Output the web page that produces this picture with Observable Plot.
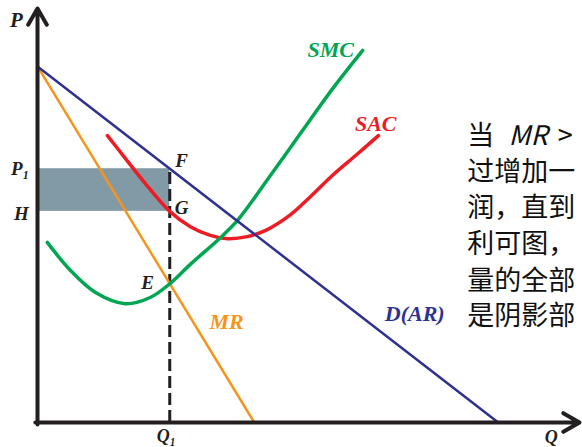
<!DOCTYPE html>
<html><head><meta charset="utf-8">
<script src="https://cdn.jsdelivr.net/npm/d3@7"></script>
<script src="https://cdn.jsdelivr.net/npm/@observablehq/plot@0.6"></script>
<style>body{margin:0;background:#fff;overflow:hidden}</style>
</head><body><div id="chart"></div>
<script>
// Axis extents (quantity Q, price P in arbitrary units)
const qDomain = [0, 100];
const pDomain = [0, 100];

// Demand D(AR) and marginal revenue MR (straight lines)
const demandQ = [0, 85];
const demandP = [86, 0];
const mrQ = [0, 40];
const mrP = [86, 0];

// Short-run average cost SAC
const sacQ = [12.9, 16.2, 19.9, 24.4, 28.2, 31.9, 35.1, 38.7, 42.1, 46.7, 50.4, 54.6, 58.7, 62.9];
const sacP = [69.3, 63.8, 57.7, 51.0, 47.3, 45.2, 44.4, 44.9, 46.4, 50.2, 54.6, 59.9, 64.5, 69.3];

// Short-run marginal cost SMC
const smcQ = [1.8, 6.1, 10.7, 16.2, 20.8, 24.4, 28.2, 33.8, 36.9, 43.0, 48.5, 54.6, 60.0];
const smcP = [43.5, 36.7, 31.4, 28.7, 30.2, 33.5, 38.2, 44.7, 48.8, 59.7, 69.8, 80.9, 89.9];

// Equilibrium values
const Q1 = 24.4;   // output where MR = SMC
const P1 = 61.3;
const H = 51.0;    // SAC at Q1

// Labels
const curveLabels = ["SMC", "SAC", "MR", "D(AR)"];
const pointLabels = ["F", "G", "E"];
const axisLabels = ["P", "P₁", "H", "Q₁", "Q"];
const noteFirst = ["当", "MR", ">"];
const noteLines = ["过增加一", "润，直到", "利可图，", "量的全部", "是阴影部"];

const zip = (qs, ps) => qs.map((q, i) => ({q, p: ps[i]}));

const serif = "'Liberation Serif', 'Times New Roman', serif";
const cjk = "'Noto Sans CJK SC', sans-serif";

const colors = {smc: "#00a651", sac: "#ed1c24", mr: "#f7941d", d: "#2e3192", axis: "#231f20", shade: "#8299a6"};

// annotation anchors in data units
const curveLabelPos = [[54.1, 90.1], [62.4, 72.0], [34.9, 24.2], [69.6, 26.3]];
const curveLabelColor = [colors.smc, colors.sac, colors.mr, colors.d];
const pointLabelPos = [[26.6, 63.3], [26.6, 51.9], [20.3, 33.8]];
const axisLabelPos = [[-3.9, 97.1], [-3.2, P1], [-2.95, 50.3], [Q1 - 0.6, -3.3], [94.8, -3.6]];
const axisLabelSize = [21, 19, 19, 18, 18];
const noteX = 79.3;
const noteY = [60.3, 51.8, 43.0, 34.1, 25.6];
const noteFirstX = [79.3, 86.9, 96.0];
const noteFirstY = 69.2;
const noteStyle = {textAnchor: "start", fill: "#111", fontFamily: cjk, fontSize: 27};

const chart = Plot.plot({
  width: 582,
  height: 447,
  marginLeft: 37,
  marginRight: 3,
  marginTop: 8,
  marginBottom: 25,
  x: {domain: qDomain, axis: null},
  y: {domain: pDomain, axis: null},
  style: {background: "#fff"},
  marks: [
    Plot.rect([{x1: qDomain[0], x2: Q1, y1: H, y2: P1}], {x1: "x1", x2: "x2", y1: "y1", y2: "y2", fill: colors.shade}),
    Plot.ruleX([Q1], {y1: pDomain[0], y2: P1, stroke: colors.axis, strokeWidth: 3, strokeDasharray: "12,5"}),
    Plot.line(zip(mrQ, mrP), {x: "q", y: "p", stroke: colors.mr, strokeWidth: 2.5}),
    Plot.line(zip(sacQ, sacP), {x: "q", y: "p", stroke: colors.sac, strokeWidth: 3.5, curve: "catmull-rom"}),
    Plot.line(zip(smcQ, smcP), {x: "q", y: "p", stroke: colors.smc, strokeWidth: 3.5, curve: "catmull-rom"}),
    Plot.line(zip(demandQ, demandP), {x: "q", y: "p", stroke: colors.d, strokeWidth: 2.5}),
    Plot.arrow([{x1: qDomain[0], y1: pDomain[0] - 0.5, x2: qDomain[0], y2: pDomain[1]}], {x1: "x1", y1: "y1", x2: "x2", y2: "y2", stroke: colors.axis, strokeWidth: 4, headLength: 7, headAngle: 60}),
    Plot.arrow([{x1: qDomain[0] - 0.4, y1: pDomain[0], x2: qDomain[1], y2: pDomain[0]}], {x1: "x1", y1: "y1", x2: "x2", y2: "y2", stroke: colors.axis, strokeWidth: 4, headLength: 7, headAngle: 60}),
    Plot.text(curveLabels.map((t, i) => ({t, q: curveLabelPos[i][0], p: curveLabelPos[i][1], c: curveLabelColor[i]})),
      {x: "q", y: "p", text: "t", fill: "c", fontFamily: serif, fontWeight: "bold", fontStyle: "italic", fontSize: 22}),
    Plot.text(pointLabels.map((t, i) => ({t, q: pointLabelPos[i][0], p: pointLabelPos[i][1]})),
      {x: "q", y: "p", text: "t", fill: colors.axis, fontFamily: serif, fontWeight: "bold", fontStyle: "italic", fontSize: 19}),
    ...axisLabels.map((t, i) => Plot.text([{t, q: axisLabelPos[i][0], p: axisLabelPos[i][1]}],
      {x: "q", y: "p", text: "t", fill: colors.axis, fontFamily: serif, fontWeight: "bold", fontStyle: "italic", fontSize: axisLabelSize[i]})),
    Plot.text([{t: noteFirst[0], q: noteFirstX[0]}, {t: noteFirst[2], q: noteFirstX[2]}],
      {x: "q", y: () => noteFirstY, text: "t", ...noteStyle}),
    Plot.text([{t: noteFirst[1], q: noteFirstX[1]}],
      {x: "q", y: () => noteFirstY, text: "t", ...noteStyle, fontStyle: "italic"}),
    Plot.text(noteLines.map((t, i) => ({t, p: noteY[i]})),
      {x: () => noteX, y: "p", text: "t", ...noteStyle})
  ]
});

document.getElementById("chart").append(chart);
</script>
</body></html>
